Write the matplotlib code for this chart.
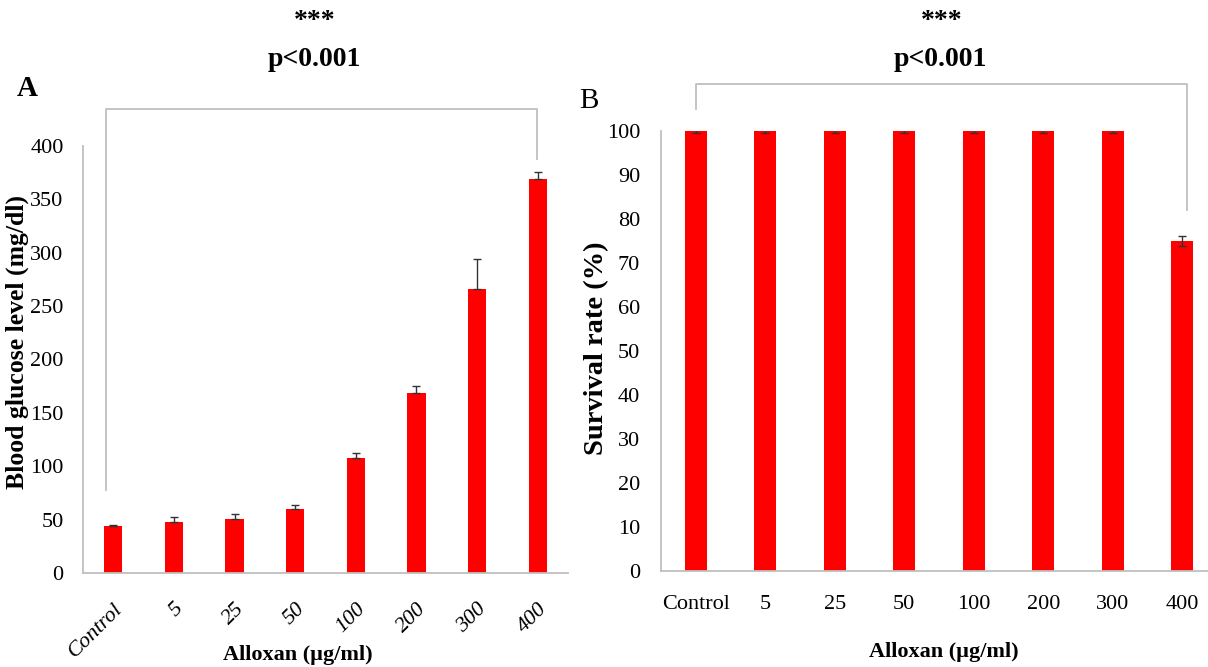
import matplotlib
matplotlib.use("Agg")
import matplotlib.pyplot as plt
import numpy as np

plt.rcParams['font.family'] = ['Liberation Serif', 'DejaVu Serif']

categories = ["Control", "5", "25", "50", "100", "200", "300", "400"]

glucose = [44, 48, 51, 60, 107.5, 169, 266, 369]
glucose_err = [1, 4, 4, 3.5, 5, 6, 28, 7]

survival = [100, 100, 100, 100, 100, 100, 100, 75]
survival_err = [0.5, 0.5, 0.5, 0.5, 0.5, 0.5, 0.5, 1.1]

glucose_ticks = [0, 50, 100, 150, 200, 250, 300, 350, 400]
survival_ticks = [0, 10, 20, 30, 40, 50, 60, 70, 80, 90, 100]

# significance brackets (x in category units, y in data units)
bracket_a_x = [-0.12, -0.12, 6.99, 6.99]
bracket_a_y = [78, 435, 435, 388]
bracket_b_x = [0.0, 0.0, 7.07, 7.07]
bracket_b_y = [105, 110.7, 110.7, 82]

W, H = 1208, 667
fig = plt.figure(figsize=(W / 100, H / 100), dpi=100)

def frac(l, r, t, b):
    return [l / W, 1 - b / H, (r - l) / W, (b - t) / H]

axA = fig.add_axes(frac(83, 568, 146, 573))
axB = fig.add_axes(frac(661, 1217, 131, 571))

red = "#FF0000"
gray = "#BFBFBF"
x = np.arange(len(categories))

# Panel A
axA.bar(x, glucose, width=0.3, color=red, zorder=2)
axA.errorbar(x, glucose, yerr=[np.zeros(len(glucose)), glucose_err], fmt="none",
             ecolor="#333333", elinewidth=1.0, capsize=3, capthick=1.0, zorder=3)
axA.set_xlim(-0.5, len(categories) - 0.5)
axA.set_ylim(0, 400)
axA.set_yticks(glucose_ticks)
axA.set_yticklabels([str(t) for t in glucose_ticks], fontsize=16)
axA.set_xticks(x)
axA.set_xticklabels(categories, rotation=45, ha="right", va="top",
                    rotation_mode="anchor", fontsize=16, style="italic")
axA.tick_params(axis="y", length=0, pad=14)
axA.tick_params(axis="x", length=0, pad=19)
axA.plot(bracket_a_x, bracket_a_y, color=gray, lw=1.3, clip_on=False, zorder=1)
axA.set_ylabel("Blood glucose level (mg/dl)", fontsize=18.5, fontweight="bold", va="center")
axA.yaxis.set_label_coords(-0.136, 0.541)
axA.set_xlabel("Alloxan (µg/ml)", fontsize=16, fontweight="bold")
axA.xaxis.set_label_coords(0.443, -0.192)
axA.xaxis.label.set_va("center")

# Panel B
axB.bar(x, survival, width=0.31, color=red, zorder=2)
axB.errorbar(x, survival, yerr=survival_err, fmt="none",
             ecolor="#333333", elinewidth=1.0, capsize=3, capthick=1.0, zorder=3)
axB.set_xlim(-0.5, len(categories) - 0.5)
axB.set_ylim(0, 100)
axB.set_yticks(survival_ticks)
axB.set_yticklabels([str(t) for t in survival_ticks], fontsize=16)
axB.set_xticks(x)
axB.set_xticklabels(categories, fontsize=16)
axB.tick_params(axis="y", length=0, pad=15)
axB.tick_params(axis="x", length=0, pad=17)
axB.plot(bracket_b_x, bracket_b_y, color=gray, lw=1.3, clip_on=False, zorder=1)
axB.set_ylabel("Survival rate (%)", fontsize=20.5, fontweight="bold", va="center")
axB.yaxis.set_label_coords(-0.115, 0.506)
axB.set_xlabel("Alloxan (µg/ml)", fontsize=16, fontweight="bold")
axB.xaxis.set_label_coords(0.509, -0.184)
axB.xaxis.label.set_va("center")

for ax in (axA, axB):
    for s in ("top", "right"):
        ax.spines[s].set_visible(False)
    for s in ("left", "bottom"):
        ax.spines[s].set_color(gray)
        ax.spines[s].set_linewidth(1.3)
    ax.set_facecolor("none")

def ftext(px, py, s, **kw):
    fig.text(px / W, 1 - py / H, s, ha="center", va="center", **kw)

ftext(315, 22, "***", fontsize=20, fontweight="bold")
ftext(314, 60, "p<0.001", fontsize=20, fontweight="bold")
ftext(942, 22, "***", fontsize=20, fontweight="bold")
ftext(940, 60, "p<0.001", fontsize=20, fontweight="bold")
ftext(27, 88, "A", fontsize=21, fontweight="bold")
ftext(589, 101, "B", fontsize=21)

fig.savefig("out.png", dpi=100)
